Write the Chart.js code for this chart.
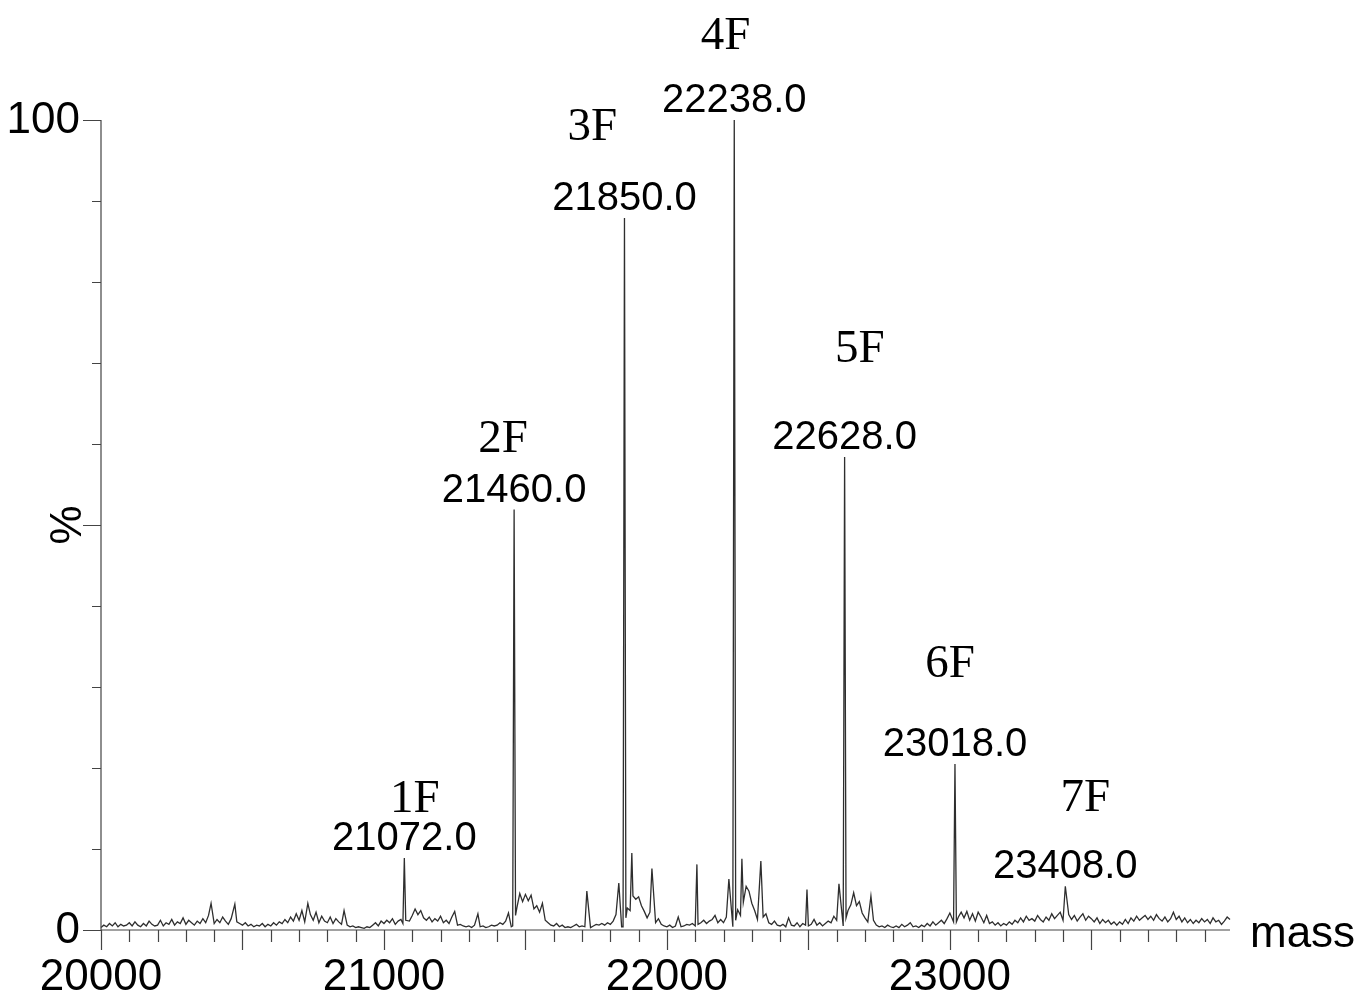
<!DOCTYPE html>
<html>
<head>
<meta charset="utf-8">
<title>mass spectrum</title>
<script src="https://cdn.jsdelivr.net/npm/chart.js@4.4.1/dist/chart.umd.min.js"></script>
<style>
  body { margin: 0; background: #fff; }
  #wrap { width: 1361px; height: 996px; }
</style>
</head>
<body>
<div id="wrap"><canvas id="spectrum" width="1361" height="996"></canvas></div>
<script>
// baseline noise, one value every 10 Da starting at 20000 (one row = 100 Da)
let noiseStart = 20000;
let noiseStep = 10;
let noise = [
  0.3,0.6,0.4,0.8,0.5,0.9,0.4,0.7,0.5,0.6,
  0.9,0.5,1.0,0.6,0.4,0.8,0.5,1.1,0.7,0.5,
  0.6,1.2,0.5,0.9,0.7,1.3,0.6,1.0,0.8,1.5,
  0.7,1.2,0.9,0.6,1.1,0.8,1.4,0.9,1.8,1.0,
  0.8,1.3,0.9,1.6,1.1,0.7,1.4,0.9,1.0,0.8,
  0.6,0.9,0.5,0.7,0.4,0.6,0.5,0.8,0.4,0.7,
  0.5,0.9,0.6,1.0,0.8,1.3,0.9,1.6,1.1,2.0,
  1.2,2.4,1.0,0.8,1.9,1.2,2.2,0.9,1.7,1.1,
  0.9,1.6,0.8,1.4,1.0,0.7,0.5,0.6,0.4,0.5,
  0.3,0.4,0.3,0.2,0.4,0.3,0.6,0.9,0.5,1.1,
  0.8,1.2,0.9,1.4,0.7,1.1,1.3,1.0,1.5,1.1,
  1.8,2.6,1.9,2.4,1.5,1.2,1.6,1.0,1.4,1.1,
  1.7,0.9,1.2,0.8,1.6,0.9,0.6,0.7,0.5,0.4,
  0.5,0.3,0.6,0.5,0.4,0.5,0.3,0.4,0.6,0.5,
  0.6,0.9,0.7,1.1,2.1,0.4,0.5,2.8,4.5,3.5,
  4.4,3.6,4.3,2.6,3.0,2.2,3.3,1.2,0.9,0.6,
  0.5,0.8,0.4,0.6,0.3,0.4,0.3,0.5,0.7,0.4,
  0.5,0.4,0.6,0.3,0.5,0.7,0.6,0.8,0.6,0.9,
  0.7,1.1,1.9,0.5,0.4,0.5,2.7,2.4,4.2,3.8,
  4.1,3.0,2.3,1.5,2.2,1.3,0.9,1.4,0.7,0.5,
  0.4,0.6,0.3,0.5,1.6,0.4,0.5,0.7,0.6,0.8,
  0.5,0.7,0.9,1.2,0.8,1.1,1.3,1.8,0.9,1.3,
  0.9,1.6,2.0,0.4,0.5,2.5,1.8,3.4,5.4,4.8,
  3.3,2.4,1.3,0.9,1.6,2.0,0.9,0.7,1.1,0.6,
  0.5,0.7,0.4,1.5,0.6,0.5,0.9,0.4,0.8,0.6,
  0.5,0.7,1.3,0.6,0.9,0.5,0.8,1.1,0.9,1.7,
  1.2,0.5,0.4,0.5,2.4,3.1,4.6,3.0,3.5,2.1,
  1.5,1.0,0.8,1.2,0.6,0.4,0.5,0.3,0.6,0.4,
  0.3,0.5,0.3,0.7,0.4,0.6,0.9,0.4,0.5,0.3,
  0.6,0.4,0.8,0.5,1.0,0.6,0.9,1.2,0.8,1.4,
  2.1,0.6,0.5,1.6,2.2,1.5,2.3,1.2,2.0,1.1,
  2.2,1.6,0.9,1.8,0.8,1.0,0.6,0.9,0.5,0.8,
  0.6,1.0,0.7,1.2,0.9,1.5,1.0,1.7,1.2,1.4,
  1.1,1.8,1.3,1.0,1.6,1.2,2.0,1.4,1.8,2.2,
  1.2,1.0,1.9,1.3,1.8,1.1,1.6,2.0,1.2,1.7,
  1.4,1.0,1.5,0.8,1.3,0.9,1.2,0.7,1.0,0.6,
  1.0,0.7,1.3,0.8,1.5,1.1,1.7,1.2,1.5,1.8,
  1.3,1.7,1.2,1.9,1.4,1.1,1.6,1.0,1.4,2.2,
  1.3,1.7,1.0,1.5,0.9,1.3,0.8,1.2,0.9,1.4,
  1.0,1.3,0.8,1.5,1.0,1.2,0.7,1.1,1.6,1.3
];

// peak tops (and feet of the big ones)
let peakMasses = [
  20389, 20473, 20731, 20859,
  21067, 21072, 21077,
  21250, 21332,
  21455, 21460, 21465,
  21717, 21830,
  21845, 21850, 21855,
  21876, 21947, 22106, 22219,
  22233, 22238, 22243,
  22265, 22332, 22495, 22608,
  22623, 22628, 22633,
  22721,
  23013, 23018, 23023,
  23408
];
let peakPercents = [
  3.3, 3.2, 3.3, 2.4,
  0.8, 8.9, 1.2,
  2.3, 2.0,
  0.5, 51.9, 1.8,
  4.8, 5.8,
  0.4, 87.9, 1.5,
  9.5, 7.6, 8.1, 6.3,
  0.4, 100, 1.2,
  8.8, 8.5, 5.0, 5.7,
  0.5, 58.4, 1.5,
  4.2,
  1.0, 20.5, 1.0,
  5.4
];

// labelled peaks
let labelMasses = [21072, 21460, 21850, 22238, 22628, 23018, 23408];
let labelPercents = [8.9, 51.9, 87.9, 100, 58.4, 20.5, 5.4];
let massTexts = ["21072.0", "21460.0", "21850.0", "22238.0", "22628.0", "23018.0", "23408.0"];
let fTexts = ["1F", "2F", "3F", "4F", "5F", "6F", "7F"];
// where the nF names sit (mass, %)
let fAnchorMass = [21109, 21421, 21736, 22207, 22682, 23001, 23479];
let fAnchorPct = [14.6, 59.0, 97.5, 108.8, 70.1, 31.2, 14.7];

let xTickLabels = ["20000", "21000", "22000", "23000"];
let yTickLabels = ["0", "100"];
let xTitle = "mass";
let yTitle = "%";

// build the point list: noise, minus anything right on top of a peak, plus peaks
let points = [];
for (let i = 0; i < noise.length; i++) {
  let m = noiseStart + i * noiseStep;
  let near = peakMasses.some(p => Math.abs(p - m) <= 3);
  if (!near) points.push({x: m, y: noise[i]});
}
for (let i = 0; i < peakMasses.length; i++) {
  points.push({x: peakMasses[i], y: peakPercents[i]});
}
points.sort((a, b) => a.x - b.x);

// axes, ticks and labels drawn by hand off the chart's scales
let axesPlugin = {
  id: 'msAxes',
  afterDatasetsDraw(chart) {
    let ctx = chart.ctx;
    let xs = chart.scales.x;
    let ys = chart.scales.y;
    let x0 = xs.getPixelForValue(20000);
    let y0 = ys.getPixelForValue(0);
    let yTop = ys.getPixelForValue(100);
    let xEnd = xs.getPixelForValue(xs.max);

    ctx.save();
    ctx.strokeStyle = '#444';
    ctx.lineWidth = 1.2;
    ctx.beginPath();
    ctx.moveTo(x0, yTop);
    ctx.lineTo(x0, y0);
    ctx.lineTo(xEnd, y0);
    ctx.stroke();

    // y ticks every 10, long ones at 0/50/100
    ctx.beginPath();
    for (let v = 0; v <= 100; v += 10) {
      let py = Math.round(ys.getPixelForValue(v)) + 0.5;
      let len = (v % 50 === 0) ? 18 : 9;
      ctx.moveTo(x0 - len, py);
      ctx.lineTo(x0, py);
    }
    // x ticks every 100, long ones every 500
    for (let m = 20000; m <= xs.max; m += 100) {
      let px = Math.round(xs.getPixelForValue(m)) + 0.5;
      let len = (m % 500 === 0) ? 20 : 12;
      ctx.moveTo(px, y0);
      ctx.lineTo(px, y0 + len);
    }
    ctx.stroke();

    ctx.fillStyle = '#000';
    ctx.font = '44px "Liberation Sans", Arial, sans-serif';
    ctx.textAlign = 'center';
    ctx.textBaseline = 'alphabetic';
    xTickLabels.forEach(t => {
      ctx.fillText(t, xs.getPixelForValue(Number(t)), y0 + 60);
    });
    ctx.textAlign = 'right';
    ctx.textBaseline = 'middle';
    yTickLabels.forEach(t => {
      ctx.fillText(t, x0 - 21, ys.getPixelForValue(Number(t)) + 1);
    });

    ctx.textAlign = 'left';
    ctx.textBaseline = 'alphabetic';
    ctx.fillText(xTitle, xEnd + 20, y0 + 17);

    ctx.save();
    ctx.translate(x0 - 32, ys.getPixelForValue(50));
    ctx.rotate(-Math.PI / 2);
    ctx.textAlign = 'center';
    ctx.textBaseline = 'middle';
    ctx.fillText(yTitle, 0, 0);
    ctx.restore();

    // peak labels
    ctx.textAlign = 'center';
    ctx.textBaseline = 'alphabetic';
    ctx.font = '40px "Liberation Sans", Arial, sans-serif';
    for (let i = 0; i < labelMasses.length; i++) {
      let px = xs.getPixelForValue(labelMasses[i]);
      let py = ys.getPixelForValue(labelPercents[i]);
      ctx.fillText(massTexts[i], px, py - 8);
    }
    ctx.font = '47px "Liberation Serif", "Times New Roman", serif';
    for (let i = 0; i < fTexts.length; i++) {
      ctx.fillText(fTexts[i], xs.getPixelForValue(fAnchorMass[i]), ys.getPixelForValue(fAnchorPct[i]));
    }
    ctx.restore();
  }
};

let ctx = document.getElementById('spectrum').getContext('2d');
new Chart(ctx, {
  type: 'line',
  data: {
    datasets: [{
      data: points,
      borderColor: '#2e2e2e',
      borderWidth: 1.3,
      pointRadius: 0,
      tension: 0,
      fill: false
    }]
  },
  options: {
    responsive: false,
    animation: false,
    clip: false,
    layout: {padding: {left: 101, right: 131, top: 120, bottom: 66}},
    plugins: {legend: {display: false}, tooltip: {enabled: false}},
    scales: {
      x: {type: 'linear', min: 20000, max: 23990, display: false},
      y: {min: 0, max: 100, display: false}
    }
  },
  plugins: [axesPlugin]
});
</script>
</body>
</html>
